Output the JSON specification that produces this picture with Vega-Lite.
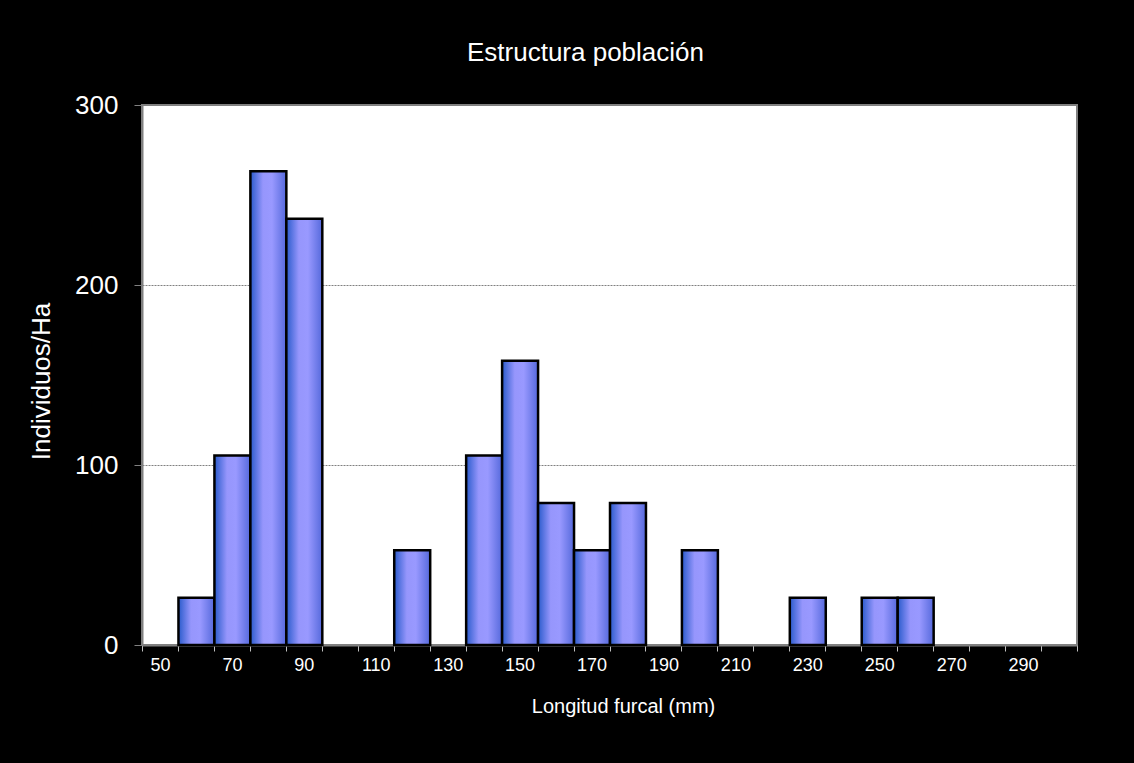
{
  "$schema": "https://vega.github.io/schema/vega-lite/v6.json",
  "width": 935,
  "height": 540,
  "autosize": {"type": "none"},
  "padding": {"left": 142, "top": 105, "right": 57, "bottom": 118},
  "background": "black",
  "title": {
    "text": "Estructura población",
    "font": "Liberation Sans",
    "fontSize": 26,
    "fontWeight": "normal",
    "color": "white",
    "anchor": "middle",
    "baseline": "alphabetic",
    "offset": 5,
    "dx": -24
  },
  "data": {
    "values": [
      {"longitud": 60, "individuos": 26.3},
      {"longitud": 70, "individuos": 105.3},
      {"longitud": 80, "individuos": 263.2},
      {"longitud": 90, "individuos": 236.8},
      {"longitud": 120, "individuos": 52.6},
      {"longitud": 140, "individuos": 105.3},
      {"longitud": 150, "individuos": 157.9},
      {"longitud": 160, "individuos": 78.9},
      {"longitud": 170, "individuos": 52.6},
      {"longitud": 180, "individuos": 78.9},
      {"longitud": 200, "individuos": 52.6},
      {"longitud": 230, "individuos": 26.3},
      {"longitud": 250, "individuos": 26.3},
      {"longitud": 260, "individuos": 26.3}
    ]
  },
  "mark": {
    "type": "bar",
    "binSpacing": 0,
    "stroke": "black",
    "strokeWidth": 2.5,
    "color": {
      "gradient": "linear",
      "x1": 0, "x2": 1, "y1": 0, "y2": 0,
      "stops": [
        {"offset": 0, "color": "#2a5bcc"},
        {"offset": 0.35, "color": "#9696fc"},
        {"offset": 0.6, "color": "#9999ff"},
        {"offset": 1, "color": "#5569dc"}
      ]
    }
  },
  "encoding": {
    "x": {
      "field": "longitud",
      "type": "quantitative",
      "bin": {"step": 10, "anchor": 45, "nice": false, "extent": [45, 305]},
      "scale": {"domain": [45, 305], "nice": false, "zero": false},
      "axis": {
        "values": [45, 55, 65, 75, 85, 95, 105, 115, 125, 135, 145, 155, 165, 175, 185, 195, 205, 215, 225, 235, 245, 255, 265, 275, 285, 295, 305],
        "labelExpr": "((datum.value - 45) % 20 == 0 && datum.value < 300) ? toString(datum.value + 5) : ''",
        "labelOffset": 18,
        "labelFlush": false,
        "labelOverlap": false,
        "labelFont": "Liberation Sans",
        "labelFontSize": 18,
        "labelColor": "white",
        "labelPadding": 5,
        "tickSize": 6,
        "tickColor": "#c0c0c0",
        "domainColor": "#808080",
        "domainWidth": 2,
        "grid": false,
        "title": "Longitud furcal (mm)",
        "titleFont": "Liberation Sans",
        "titleFontSize": 20,
        "titleFontWeight": "normal",
        "titleColor": "white",
        "titleX": 481,
        "titleY": 61,
        "titleBaseline": "middle"
      }
    },
    "y": {
      "field": "individuos",
      "type": "quantitative",
      "scale": {"domain": [0, 300], "nice": false},
      "axis": {
        "values": [0, 100, 200, 300],
        "labelFont": "Liberation Sans",
        "labelFontSize": 26,
        "labelColor": "white",
        "labelPadding": 16,
        "tickSize": 8,
        "tickColor": "#808080",
        "domainColor": "#808080",
        "domainWidth": 2,
        "grid": true,
        "gridColor": "#808080",
        "gridDash": [2, 1],
        "gridWidth": 1,
        "title": "Individuos/Ha",
        "titleFont": "Liberation Sans",
        "titleFontSize": 26,
        "titleFontWeight": "normal",
        "titleColor": "white",
        "titleX": -101,
        "titleY": 276,
        "titleBaseline": "middle",
        "titleAngle": -90
      }
    }
  },
  "config": {
    "view": {"fill": "white", "stroke": "#808080", "strokeWidth": 2}
  }
}
